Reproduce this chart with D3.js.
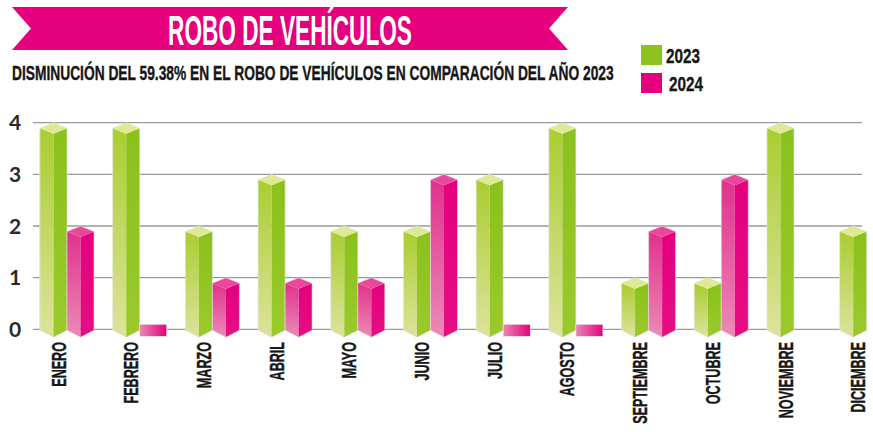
<!DOCTYPE html>
<html>
<head>
<meta charset="utf-8">
<script src="https://cdn.jsdelivr.net/npm/d3@7"></script>
<style>
  html, body { margin: 0; padding: 0; background: #fff; }
  svg { display: block; }
  .cond { font-family: "Liberation Sans", Arial, sans-serif; font-weight: 700; }
</style>
</head>
<body>
<div id="chart"></div>
<script>
// values
const months = ["ENERO", "FEBRERO", "MARZO", "ABRIL", "MAYO", "JUNIO", "JULIO",
  "AGOSTO", "SEPTIEMBRE", "OCTUBRE", "NOVIEMBRE", "DICIEMBRE"];
const series = ["2023", "2024"];
const values2023 = [4, 4, 2, 3, 2, 2, 3, 4, 1, 1, 4, 2];
const values2024 = [2, 0, 1, 1, 1, 3, 0, 0, 2, 3, null, null];
const yTicks = [0, 1, 2, 3, 4];
const title = "ROBO DE VEHÍCULOS";
const subtitle = "DISMINUCIÓN DEL 59.38% EN EL ROBO DE VEHÍCULOS EN COMPARACIÓN DEL AÑO 2023";

const W = 873, H = 432;
const PINK = "#e5007d", GREEN = "#8dc21f";

const svg = d3.select("#chart").append("svg")
  .attr("width", W).attr("height", H).attr("viewBox", `0 0 ${W} ${H}`);

const defs = svg.append("defs");
function vgrad(id, top, bottom) {
  const g = defs.append("linearGradient").attr("id", id)
    .attr("x1", 0).attr("y1", 0).attr("x2", 0).attr("y2", 1);
  g.append("stop").attr("offset", "0%").attr("stop-color", top);
  g.append("stop").attr("offset", "100%").attr("stop-color", bottom);
}
function hgrad(id, left, right) {
  const g = defs.append("linearGradient").attr("id", id)
    .attr("x1", 0).attr("y1", 0).attr("x2", 1).attr("y2", 0);
  g.append("stop").attr("offset", "0%").attr("stop-color", left);
  g.append("stop").attr("offset", "100%").attr("stop-color", right);
}
vgrad("gL", "#a9cd2f", "#dde39c");
vgrad("gR", "#8ac11c", "#9bc92c");
vgrad("pL", "#e1318d", "#eb8ab7");
vgrad("pR", "#e5007d", "#e40e84");
hgrad("pS", "#ec86b6", "#e5007d");

const faces = {
  "2023": { left: "url(#gL)", right: "url(#gR)", top: "#dfe893" },
  "2024": { left: "url(#pL)", right: "url(#pR)", top: "#e8479b" }
};

// fit condensed text to a width by squeezing glyphs horizontally
function squeeze(sel, target) {
  const n = sel.node().getComputedTextLength();
  return target / n;
}

// ---- title banner ----
const banner = [[12, 7], [568, 7], [549, 28.5], [568, 50], [12, 50], [31, 28.5]];
svg.append("polygon").attr("points", banner.map(p => p.join(",")).join(" "))
  .attr("fill", PINK);
const tt = svg.append("text").attr("class", "cond")
  .attr("font-size", 42).attr("fill", "#fff").attr("text-anchor", "middle").text(title);
const ts = squeeze(tt, 244);
tt.attr("transform", `translate(290,44.5) scale(${ts},1)`);

const st = svg.append("text").attr("class", "cond")
  .attr("font-size", 19.5).attr("fill", "#161616")
  .attr("stroke", "#161616").attr("stroke-width", 0.35).text(subtitle);
const ss = squeeze(st, 602);
st.attr("transform", `translate(12,80) scale(${ss},1)`);

// ---- legend ----
const legend = svg.append("g");
series.forEach((s, i) => {
  const ly = 45 + i * 28;
  legend.append("rect").attr("x", 641).attr("y", ly).attr("width", 21).attr("height", 20)
    .attr("fill", i === 0 ? GREEN : PINK);
  const lt = legend.append("text").attr("class", "cond")
    .attr("font-size", 21).attr("fill", "#161616")
    .attr("stroke", "#161616").attr("stroke-width", 0.35).text(s);
  const ls = squeeze(lt, 34);
  lt.attr("transform", `translate(${666 + i * 3},${ly + 18}) scale(${ls},1)`);
});

// ---- scales ----
const y = d3.scaleLinear().domain([0, 4]).range([329.3, 122.7]);
const x = d3.scaleBand().domain(months).range([40, 893.7]).paddingInner(0.257).paddingOuter(0);
const xs = d3.scaleBand().domain(series).range([0, x.bandwidth()]);

// ---- grid ----
const grid = svg.append("g");
grid.selectAll("line.grid").data(yTicks).join("line").attr("class", "grid")
  .attr("x1", 33).attr("x2", 862)
  .attr("y1", d => y(d)).attr("y2", d => y(d))
  .attr("stroke", "#9a9a9a").attr("stroke-width", 1.3);
grid.append("line").attr("x1", 40).attr("x2", 40).attr("y1", 130).attr("y2", y(0))
  .attr("stroke", "#d4d4d4").attr("stroke-width", 1);
grid.selectAll("text.tick").data(yTicks).join("text").attr("class", "tick")
  .attr("x", 15).attr("y", d => y(d)).attr("dy", "0.36em")
  .attr("text-anchor", "middle")
  .attr("font-family", "Lato, 'Open Sans', sans-serif").attr("font-weight", 700)
  .attr("font-size", 21).attr("fill", "#2a2a2a")
  .text(d => d);

// ---- bars ----
const rows = [];
months.forEach((m, i) => {
  rows.push({ month: m, series: "2023", value: values2023[i] });
  rows.push({ month: m, series: "2024", value: values2024[i] });
});
const bars = svg.append("g");
const d = 5.5;
const y0 = y(0);
rows.filter(r => r.value != null).forEach(r => {
  const x0 = x(r.month) + xs(r.series), w = xs.bandwidth(), x1 = x0 + w, xc = x0 + w / 2;
  const f = faces[r.series];
  const g = bars.append("g");
  if (r.value === 0) {
    g.append("rect").attr("x", x0).attr("y", y0 - 5).attr("width", w).attr("height", 12)
      .attr("fill", r.series === "2024" ? "url(#pS)" : GREEN)
      .attr("stroke", "#e8e8e8").attr("stroke-width", 0.6);
    return;
  }
  const yt = y(r.value);
  const pts = a => a.map(p => p.join(",")).join(" ");
  g.append("polygon").attr("points", pts([[x0, yt + d], [xc, yt + 2 * d], [xc, y0 + 8], [x0, y0 + 1]]))
    .attr("fill", f.left);
  g.append("polygon").attr("points", pts([[xc, yt + 2 * d], [x1, yt + d], [x1, y0 + 1], [xc, y0 + 8]]))
    .attr("fill", f.right);
  g.append("polygon").attr("points", pts([[x0, yt + d], [xc, yt], [x1, yt + d], [xc, yt + 2 * d]]))
    .attr("fill", f.top);
  g.append("polygon")
    .attr("points", pts([[x0, yt + d], [xc, yt], [x1, yt + d], [x1, y0 + 1], [xc, y0 + 8], [x0, y0 + 1]]))
    .attr("fill", "none").attr("stroke", "#e2e2e2").attr("stroke-width", 0.6);
});

// ---- month labels ----
const labels = svg.append("g");
months.forEach(m => {
  const lx = x(m) + 18;
  labels.append("text").attr("class", "cond")
    .attr("font-size", 21).attr("fill", "#161616")
    .attr("stroke", "#161616").attr("stroke-width", 0.4)
    .attr("text-anchor", "end").attr("dy", "0.36em")
    .attr("transform", `translate(${lx},342) rotate(-90) scale(0.6,1)`)
    .text(m);
});
</script>
</body>
</html>
